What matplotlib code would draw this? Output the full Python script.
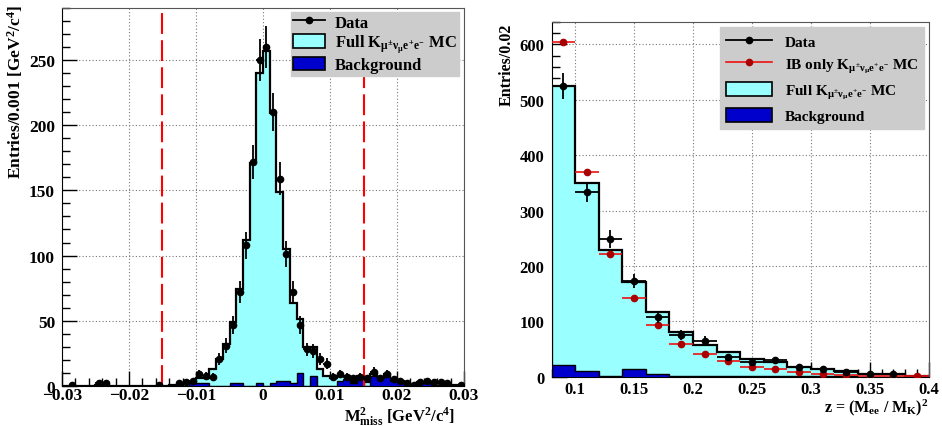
import numpy as np
import matplotlib
matplotlib.use("Agg")
import matplotlib.pyplot as plt
from matplotlib.lines import Line2D
from matplotlib.patches import Patch
from matplotlib.ticker import MultipleLocator

plt.rcParams['font.family'] = 'Liberation Serif'
plt.rcParams['font.weight'] = 'bold'
plt.rcParams['mathtext.fontset'] = 'custom'
plt.rcParams['mathtext.rm'] = 'Liberation Serif:bold'
plt.rcParams['mathtext.it'] = 'Liberation Serif:bold'
plt.rcParams['mathtext.bf'] = 'Liberation Serif:bold'

# ---- left panel: missing mass squared, bins of 0.001 from -0.03 to 0.03
m2_edges = np.round(np.arange(-0.030, 0.0305, 0.001), 4)
m2_data = [0, 1, 0, 0, 0, 2, 2, 0, 0, 0, 0, 0, 0, 0, 1, 0, 0, 2, 3, 4,
           9, 8, 7, 21, 31, 47, 72, 108, 172, 250, 260, 210, 159, 101, 72, 47, 28, 27, 21, 17,
           7, 9, 7, 6, 7, 6, 11, 6, 9, 5, 4, 2, 1, 3, 4, 3, 3, 2, 0, 1]
m2_mc = [0, 0, 0, 0, 0, 1, 1, 0, 0, 0, 0, 0, 0, 0, 0.2, 0.3, 0.5, 1, 2, 3,
         6, 6, 13, 21, 32, 49, 74, 112, 171, 240, 257, 209, 149, 105, 64, 51, 30, 30, 13, 8,
         6, 8, 8, 3, 8, 3, 9, 7, 9, 4, 4, 2, 1, 3, 3, 2, 2, 1, 1, 1]
m2_bkg = [0, 0, 0, 0, 0, 1, 1, 0, 0, 0, 0, 0, 0, 0, 0, 0, 0, 0, 0, 2,
          2, 2, 0, 0, 0, 2, 2, 0, 0, 2, 0, 2, 4, 4, 2, 10, 0, 8, 0, 0,
          0, 4, 5, 2, 6, 0, 8, 6, 8, 4, 3, 1, 1, 2, 3, 1, 1, 1, 0, 1]

# ---- right panel: z = (Mee/MK)^2, bins of 0.02 from 0.08 to 0.40
z_edges = np.round(np.arange(0.08, 0.4001, 0.02), 3)
z_data = [525, 334, 249, 173, 108, 75, 65, 35, 27, 30, 17, 14, 9, 4, 4, 0]
z_ib = [604, 369, 222, 142, 94, 59, 41, 28, 17, 13, 8, 5, 3, 1.5, 1, 0.8]
z_mc = [525, 349, 229, 171, 117, 81, 58, 44, 32, 26, 17, 14, 10, 5, 4, 2]
z_bkg = [21, 11, 2, 13, 4, 1, 1, 1, 1, 0.5, 0.5, 0.5, 0.5, 0, 0, 0]

cyan = '#99ffff'
blue = '#0000cc'
grey = '#cccccc'

fig = plt.figure(figsize=(9.42, 4.27), dpi=100)
ax1 = fig.add_axes([0.0658, 0.0937, 0.4268, 0.8859])
ax2 = fig.add_axes([0.5855, 0.1155, 0.4004, 0.8299])


def draw_hists(ax, edges, data, mc, bkg, ms=4.5):
    ax.stairs(mc, edges, fill=True, color=cyan, zorder=2)
    ax.stairs(mc, edges, color='black', lw=1.6, zorder=3)
    ax.stairs(bkg, edges, fill=True, facecolor=blue, edgecolor='black', lw=1.0, zorder=4)
    d = np.array(data, dtype=float)
    centers = 0.5 * (edges[:-1] + edges[1:])
    half = 0.5 * (edges[1] - edges[0])
    ok = d > 0
    ax.errorbar(centers[ok], d[ok], yerr=np.sqrt(d[ok]), xerr=half, fmt='o',
                color='black', ms=ms, lw=1.3, capsize=0, zorder=6)


def style_axes(ax, fs, pad):
    ax.tick_params(which='both', direction='in', top=False, right=False, labelsize=fs)
    ax.tick_params(axis='x', pad=pad)
    ax.tick_params(axis='y', pad=5)
    ax.tick_params(which='major', length=11, width=1)
    ax.tick_params(which='minor', length=6, width=1)
    ax.grid(True, which='major', ls=(0, (1, 2)), color='#777777', lw=0.8, zorder=1)
    ax.set_axisbelow(True)
    for s in ['top', 'right']:
        ax.spines[s].set_color('#555555')
    for lab in ax.get_xticklabels() + ax.get_yticklabels():
        lab.set_fontweight('bold')


# left panel
draw_hists(ax1, m2_edges, m2_data, m2_mc, m2_bkg)
for xv in (-0.015, 0.015):
    ax1.axvline(xv, color='red', ls=(0, (10, 3)), lw=1.5, zorder=5)
ax1.set_xlim(-0.03, 0.03)
ax1.set_ylim(0, 290)
ax1.xaxis.set_major_locator(MultipleLocator(0.01))
ax1.xaxis.set_minor_locator(MultipleLocator(0.002))
ax1.yaxis.set_major_locator(MultipleLocator(50))
ax1.yaxis.set_minor_locator(MultipleLocator(10))
ax1.xaxis.set_major_formatter(lambda v, p: '0' if abs(v) < 1e-9 else f'{v:.2f}'.replace('-', '\u2212'))
style_axes(ax1, 12.5, 1.0)
ax1.set_ylabel(r'Entries/0.001 [GeV$^{2}$/c$^{4}$]', fontsize=12.5, fontweight='bold', loc='top')
ax1.yaxis.set_label_coords(-0.092, 1.01)
ax1.set_xlabel(r'M$^{2}_{\mathrm{miss}}$ [GeV$^{2}$/c$^{4}$]', fontsize=12, fontweight='bold', loc='right')
ax1.xaxis.set_label_coords(0.978, -0.047)

sub = r'$_{\mu^{\pm}\nu_{\mu}e^{+}e^{-}}$'
h_data = Line2D([], [], color='black', marker='o', ms=4.5, lw=1.3)
h_full = Patch(facecolor=cyan, edgecolor='black', lw=1.2)
h_bkg = Patch(facecolor=blue, edgecolor='black', lw=1.2)
leg1 = ax1.legend([h_data, h_full, h_bkg], ['Data', 'Full K' + sub + ' MC', 'Background'],
                  loc='upper right', bbox_to_anchor=(0.9876, 0.9894), borderaxespad=0,
                  fontsize=12, frameon=True, fancybox=False, facecolor=grey, edgecolor=grey,
                  framealpha=1, handlelength=1.9, handleheight=0.85, labelspacing=0.12,
                  borderpad=0.15, handletextpad=0.6)
leg1.set_zorder(10)

# right panel
draw_hists(ax2, z_edges, z_data, z_mc, z_bkg)
zc = 0.5 * (z_edges[:-1] + z_edges[1:])
ib = np.array(z_ib)
ax2.errorbar(zc, ib, yerr=0.15 * np.sqrt(ib), xerr=0.01, fmt='o', color='#ee1111',
             mfc='#aa0000', mec='#aa0000', ms=4.5, lw=1.2, capsize=0, zorder=5)
ax2.set_xlim(0.08, 0.4)
ax2.set_ylim(0, 640)
ax2.xaxis.set_major_locator(MultipleLocator(0.05))
ax2.xaxis.set_minor_locator(MultipleLocator(0.01))
ax2.yaxis.set_major_locator(MultipleLocator(100))
ax2.yaxis.set_minor_locator(MultipleLocator(20))
ax2.xaxis.set_major_formatter(lambda v, p: f'{v:g}')
style_axes(ax2, 12, 3.0)
ax2.set_ylabel('Entries/0.02', fontsize=11.5, fontweight='bold', loc='top')
ax2.yaxis.set_label_coords(-0.097, 1.0)
ax2.set_xlabel(r'z = (M$_{\mathrm{ee}}$ / M$_{\mathrm{K}}$)$^{2}$', fontsize=11.5, fontweight='bold', loc='right')
ax2.xaxis.set_label_coords(1.0, -0.056)

h_ib = Line2D([], [], color='#ee1111', marker='o', mfc='#aa0000', mec='#aa0000', ms=4.5, lw=1.2)
leg2 = ax2.legend([h_data, h_ib, h_full, h_bkg],
                  ['Data', 'IB only K' + sub + ' MC', 'Full K' + sub + ' MC', 'Background'],
                  loc='upper right', bbox_to_anchor=(0.9875, 0.9859), borderaxespad=0,
                  fontsize=11, frameon=True, fancybox=False, facecolor=grey, edgecolor=grey,
                  framealpha=1, handlelength=3.0, handleheight=1.1, labelspacing=0.45,
                  borderpad=0.4, handletextpad=0.8)
leg2.set_zorder(10)

fig.savefig('out.png', dpi=100)
